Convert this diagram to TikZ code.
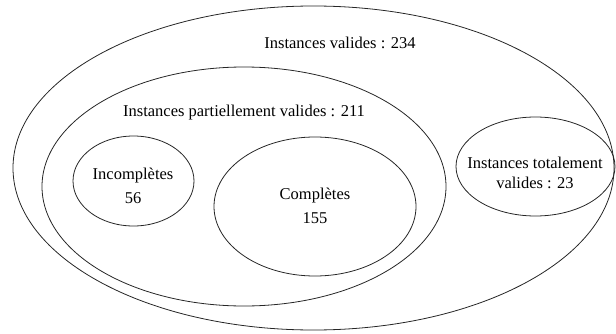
\documentclass[tikz,border=0pt]{standalone}
\usepackage{fontspec}
\setmainfont{Liberation Serif}
\usetikzlibrary{shapes.geometric}
\begin{document}
\begin{tikzpicture}[x=1pt,y=1pt,
  setshape/.style={draw=black!85, line width=0.8pt, ellipse, inner sep=0pt},
  lbl/.style={font=\fontsize{16.5}{19}\selectfont, inner sep=0pt, align=center}]
\useasboundingbox (0,0) rectangle (616,333);
\node[setshape, minimum width=601, minimum height=324] (valides) at (313.5,165) {};
\node[setshape, minimum width=404, minimum height=239] (partiel) at (244,146.5) {};
\node[setshape, minimum width=121, minimum height=90] (incomp) at (133.5,152) {};
\node[setshape, minimum width=202, minimum height=139] (comp) at (315,126.5) {};
\node[setshape, minimum width=159, minimum height=99] (total) at (535.5,166.5) {};
\node[lbl] (tvalides) at (340,290) {Instances valides : 234};
\node[lbl] (tpartiel) at (244,220) {Instances partiellement valides : 211};
\node[lbl] (tincomp) at (133,147.5) {Incomplètes\\[5pt]56};
\node[lbl] (tcomp) at (315,127.5) {Complètes\\[5pt]155};
\node[lbl] (ttotal) at (535,160.5) {Instances totalement\\[1pt]valides : 23};
\end{tikzpicture}
\end{document}
